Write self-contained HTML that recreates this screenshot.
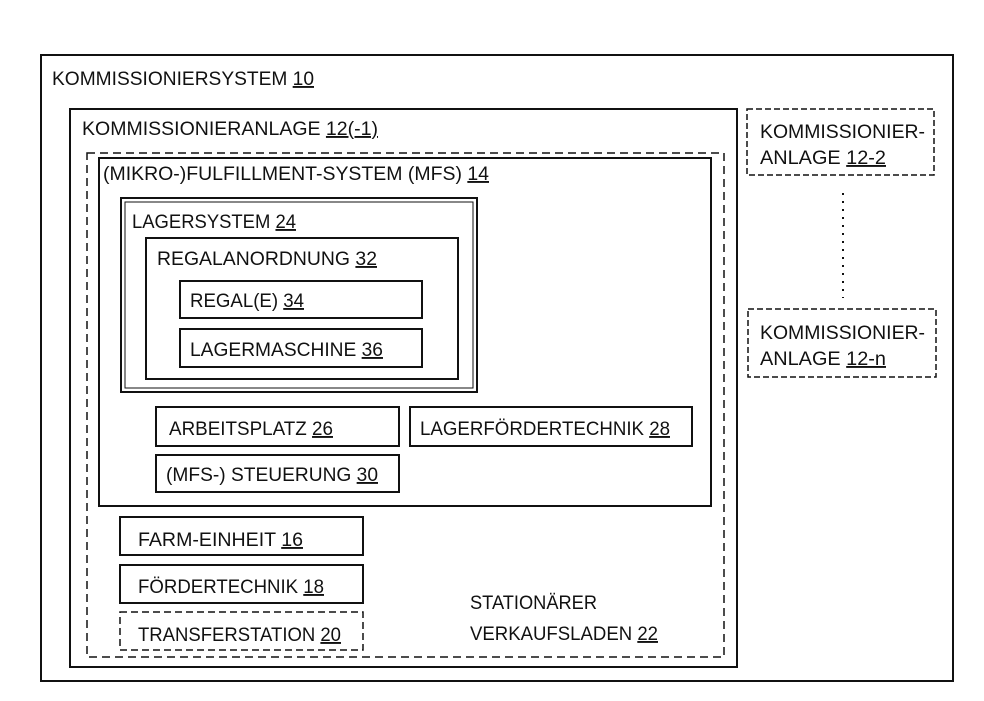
<!DOCTYPE html>
<html><head><meta charset="utf-8"><style>html,body{margin:0;padding:0;background:#fff}svg{display:block}text{font-family:"Liberation Sans",sans-serif;font-size:19px;fill:#111}</style></head><body>
<svg width="984" height="701" xmlns="http://www.w3.org/2000/svg">
<g fill="none" stroke="#111" stroke-width="2">
<rect x="41" y="55" width="912" height="626"/>
<rect x="70" y="109" width="667" height="558"/>
<rect x="87" y="153" width="637" height="504" stroke-dasharray="8,5" stroke-width="1.5"/>
<rect x="99" y="158" width="612" height="348"/>
<rect x="121" y="198" width="356" height="194"/>
<rect x="125" y="202" width="348" height="186" stroke-width="1"/>
<rect x="146" y="238" width="312" height="141"/>
<rect x="180" y="281" width="242" height="37"/>
<rect x="180" y="329" width="242" height="38"/>
<rect x="156" y="407" width="243" height="39"/>
<rect x="410" y="407" width="282" height="39"/>
<rect x="156" y="455" width="243" height="37"/>
<rect x="120" y="517" width="243" height="38"/>
<rect x="120" y="565" width="243" height="38"/>
<rect x="120" y="612" width="243" height="38" stroke-dasharray="7,4" stroke-width="1.5"/>
<rect x="747" y="109" width="187" height="66" stroke-dasharray="6,3" stroke-width="1.5"/>
<rect x="748" y="309" width="188" height="68" stroke-dasharray="6,3" stroke-width="1.5"/>
<line x1="843" y1="193" x2="843" y2="298" stroke-dasharray="2,6" stroke-width="2"/>
</g>
<text x="52" y="85" textLength="262" lengthAdjust="spacingAndGlyphs">KOMMISSIONIERSYSTEM <tspan text-decoration="underline">10</tspan></text>
<text x="82" y="135" textLength="296" lengthAdjust="spacingAndGlyphs">KOMMISSIONIERANLAGE <tspan text-decoration="underline">12(-1)</tspan></text>
<text x="103" y="180" textLength="386" lengthAdjust="spacingAndGlyphs">(MIKRO-)FULFILLMENT-SYSTEM (MFS) <tspan text-decoration="underline">14</tspan></text>
<text x="132" y="228" textLength="164" lengthAdjust="spacingAndGlyphs">LAGERSYSTEM <tspan text-decoration="underline">24</tspan></text>
<text x="157" y="265" textLength="220" lengthAdjust="spacingAndGlyphs">REGALANORDNUNG <tspan text-decoration="underline">32</tspan></text>
<text x="190" y="307" textLength="114" lengthAdjust="spacingAndGlyphs">REGAL(E) <tspan text-decoration="underline">34</tspan></text>
<text x="190" y="356" textLength="193" lengthAdjust="spacingAndGlyphs">LAGERMASCHINE <tspan text-decoration="underline">36</tspan></text>
<text x="169" y="435" textLength="164" lengthAdjust="spacingAndGlyphs">ARBEITSPLATZ <tspan text-decoration="underline">26</tspan></text>
<text x="420" y="435" textLength="250" lengthAdjust="spacingAndGlyphs">LAGERFÖRDERTECHNIK <tspan text-decoration="underline">28</tspan></text>
<text x="166" y="481" textLength="212" lengthAdjust="spacingAndGlyphs">(MFS-) STEUERUNG <tspan text-decoration="underline">30</tspan></text>
<text x="138" y="546" textLength="165" lengthAdjust="spacingAndGlyphs">FARM-EINHEIT <tspan text-decoration="underline">16</tspan></text>
<text x="138" y="593" textLength="186" lengthAdjust="spacingAndGlyphs">FÖRDERTECHNIK <tspan text-decoration="underline">18</tspan></text>
<text x="138" y="641" textLength="203" lengthAdjust="spacingAndGlyphs">TRANSFERSTATION <tspan text-decoration="underline">20</tspan></text>
<text x="470" y="609" textLength="127" lengthAdjust="spacingAndGlyphs">STATIONÄRER</text>
<text x="470" y="640" textLength="188" lengthAdjust="spacingAndGlyphs">VERKAUFSLADEN <tspan text-decoration="underline">22</tspan></text>
<text x="760" y="138" textLength="165" lengthAdjust="spacingAndGlyphs">KOMMISSIONIER-</text>
<text x="760" y="164" textLength="126" lengthAdjust="spacingAndGlyphs">ANLAGE <tspan text-decoration="underline">12-2</tspan></text>
<text x="760" y="339" textLength="165" lengthAdjust="spacingAndGlyphs">KOMMISSIONIER-</text>
<text x="760" y="365" textLength="126" lengthAdjust="spacingAndGlyphs">ANLAGE <tspan text-decoration="underline">12-n</tspan></text>
</svg>
</body></html>
